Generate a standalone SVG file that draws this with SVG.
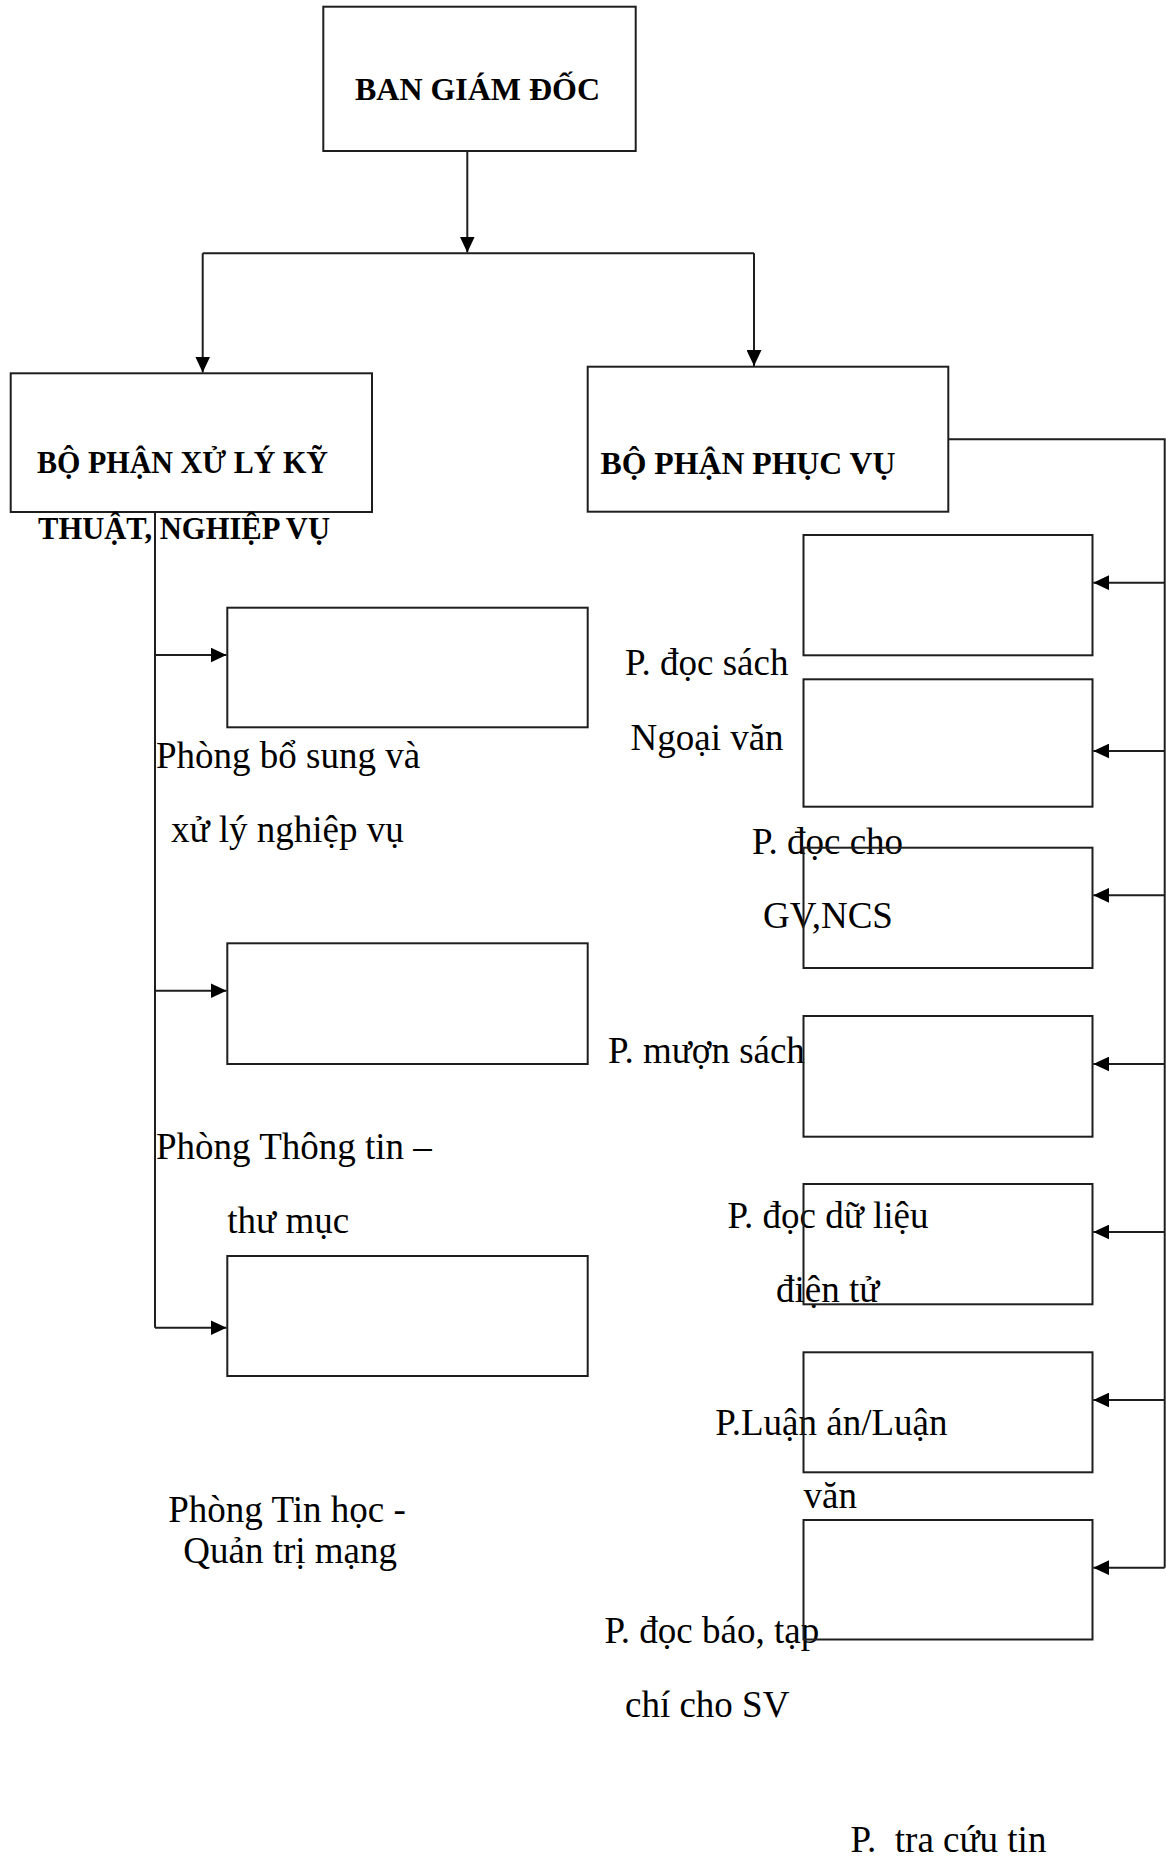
<svg xmlns="http://www.w3.org/2000/svg" width="1166" height="1856" viewBox="0 0 1166 1856">
<style>
.box{fill:none;stroke:#1e1e1e;stroke-width:2}
.ln{fill:none;stroke:#1e1e1e;stroke-width:2}
.b{font-family:"Liberation Serif","Times New Roman",serif;font-weight:bold;font-size:31px;fill:#000}
.t{font-family:"Liberation Serif","Times New Roman",serif;font-size:37px;fill:#000}
</style>
<defs>
<marker id="ar" markerUnits="userSpaceOnUse" markerWidth="17" markerHeight="15" refX="16" refY="7.5" orient="auto">
<path d="M0,0 L16,7.5 L0,15 z" fill="#000"/>
</marker>
</defs>
<rect width="1166" height="1856" fill="#fff"/>
<g id="connectors">
<path class="ln" d="M467.3,151 V252.5" marker-end="url(#ar)"/>
<path class="ln" d="M202.7,253.3 H754"/>
<path class="ln" d="M202.7,253.3 V372.5" marker-end="url(#ar)"/>
<path class="ln" d="M754,253.3 V366" marker-end="url(#ar)"/>
<path class="ln" d="M155,512 V1327.7"/>
<path class="ln" d="M155,655 H226.5" marker-end="url(#ar)"/>
<path class="ln" d="M155,990.7 H226.5" marker-end="url(#ar)"/>
<path class="ln" d="M155,1327.7 H226.5" marker-end="url(#ar)"/>
<path class="ln" d="M948.3,439.3 H1164.7 V1567.7"/>
<path class="ln" d="M1164.7,582.7 H1093.3" marker-end="url(#ar)"/>
<path class="ln" d="M1164.7,751 H1093.3" marker-end="url(#ar)"/>
<path class="ln" d="M1164.7,895.3 H1093.3" marker-end="url(#ar)"/>
<path class="ln" d="M1164.7,1064 H1093.3" marker-end="url(#ar)"/>
<path class="ln" d="M1164.7,1232 H1093.3" marker-end="url(#ar)"/>
<path class="ln" d="M1164.7,1400 H1093.3" marker-end="url(#ar)"/>
<path class="ln" d="M1164.7,1567.7 H1093.3" marker-end="url(#ar)"/>
</g>
<g id="ban-giam-doc">
<rect class="box" x="323.3" y="6.7" width="312.4" height="144.3"/>
<text class="b" x="355" y="100" textLength="245" lengthAdjust="spacingAndGlyphs">BAN GIÁM ĐỐC</text>
</g>
<g id="bo-phan-xu-ly">
<rect class="box" x="10.7" y="373.3" width="361.3" height="138.7"/>
<text class="b" x="37" y="473.3" textLength="291" lengthAdjust="spacingAndGlyphs">BỘ PHẬN XỬ LÝ KỸ</text>
<text class="b" x="38" y="539.3" textLength="292" lengthAdjust="spacingAndGlyphs">THUẬT, NGHIỆP VỤ</text>
</g>
<g id="bo-phan-phuc-vu">
<rect class="box" x="587.7" y="366.7" width="360.6" height="145"/>
<text class="b" x="600.5" y="474" textLength="295" lengthAdjust="spacingAndGlyphs">BỘ PHẬN PHỤC VỤ</text>
</g>
<g id="phong-bo-sung">
<rect class="box" x="227.3" y="607.7" width="360.4" height="119.6"/>
<text class="t" x="156" y="768.3">Phòng bổ sung và</text>
<text class="t" x="171" y="841.7">xử lý nghiệp vụ</text>
</g>
<g id="phong-thong-tin">
<rect class="box" x="227.3" y="943.3" width="360.4" height="120.7"/>
<text class="t" x="156" y="1159.3">Phòng Thông tin –</text>
<text class="t" x="227.3" y="1233.3">thư mục</text>
</g>
<g id="phong-tin-hoc">
<rect class="box" x="227.3" y="1256" width="360.4" height="120"/>
<text class="t" x="168.3" y="1521.7">Phòng Tin học -</text>
<text class="t" x="183.3" y="1563.3">Quản trị mạng</text>
</g>
<g id="p-doc-sach-ngoai-van">
<rect class="box" x="803.5" y="535" width="289" height="120.3"/>
<text class="t" x="625" y="675">P. đọc sách</text>
<text class="t" x="630.5" y="750">Ngoại văn</text>
</g>
<g id="p-doc-cho-gv">
<rect class="box" x="803.5" y="679.3" width="289" height="127.4"/>
<text class="t" x="752" y="854">P. đọc cho</text>
<text class="t" x="763" y="928.3">GV,NCS</text>
</g>
<g id="p-muon-sach">
<rect class="box" x="803.5" y="847.7" width="289" height="120.3"/>
<text class="t" x="608" y="1062.7">P. mượn sách</text>
</g>
<g id="p-doc-du-lieu">
<rect class="box" x="803.5" y="1016" width="289" height="120.7"/>
<text class="t" x="727.6" y="1228.3">P. đọc dữ liệu</text>
<text class="t" x="776" y="1301.7">điện tử</text>
</g>
<g id="p-luan-an">
<rect class="box" x="803.5" y="1184" width="289" height="120.3"/>
<text class="t" x="715.3" y="1435">P.Luận án/Luận</text>
<text class="t" x="803.5" y="1508.3">văn</text>
</g>
<g id="p-doc-bao">
<rect class="box" x="803.5" y="1352.3" width="289" height="120"/>
<text class="t" x="604.4" y="1643.3">P. đọc báo, tạp</text>
<text class="t" x="625" y="1716.7">chí cho SV</text>
</g>
<g id="p-tra-cuu">
<rect class="box" x="803.5" y="1520" width="289" height="119.5"/>
<text class="t" x="850.6" y="1851.7" xml:space="preserve">P.  tra cứu tin</text>
</g>
</svg>
